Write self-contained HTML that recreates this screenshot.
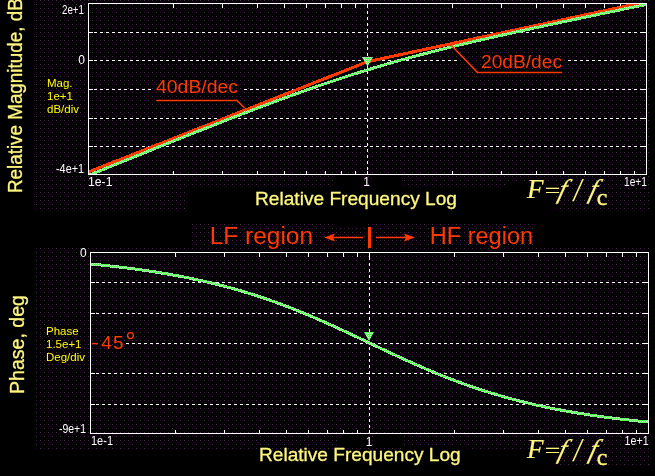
<!DOCTYPE html>
<html><head><meta charset="utf-8"><title>Bode plot</title>
<style>html,body{margin:0;padding:0;background:#000;width:655px;height:476px;overflow:hidden}body{position:relative}</style>
</head><body>
<svg width="655" height="476" viewBox="0 0 655 476" style="position:absolute;left:0;top:0">
<defs>
<pattern id="dots" width="8" height="8" patternUnits="userSpaceOnUse"><rect x="0" y="0" width="1" height="1" fill="#3e3e3e"/><rect x="4" y="0" width="1" height="1" fill="#3c0044"/><rect x="2" y="2" width="1" height="1" fill="#3c0044"/><rect x="0" y="4" width="1" height="1" fill="#3c0044"/><rect x="4" y="4" width="1" height="1" fill="#3e3e3e"/></pattern>
<pattern id="gchk" width="2" height="2" patternUnits="userSpaceOnUse"><rect width="2" height="2" fill="#b4ffb4"/><rect width="1" height="1" fill="#50ff50"/><rect x="1" y="1" width="1" height="1" fill="#50ff50"/></pattern>
<clipPath id="c1"><rect x="89" y="4" width="557" height="170"/></clipPath>
<clipPath id="c2"><rect x="91" y="253" width="557" height="180"/></clipPath>
</defs>
<rect width="655" height="476" fill="#000"/>
<rect x="34" y="0" width="616" height="211" fill="url(#dots)"/>
<rect x="188" y="187" width="367" height="24" fill="#000"/>
<rect x="333" y="175" width="30" height="12" fill="#000"/>
<rect x="372" y="175" width="30" height="12" fill="#000"/>
<rect x="506" y="182" width="49" height="5" fill="#000"/>
<rect x="192" y="224" width="344" height="24" fill="url(#dots)"/>
<rect x="335" y="224" width="31" height="4" fill="#000"/>
<rect x="35" y="248" width="616" height="201" fill="url(#dots)"/>
<rect x="555" y="449" width="96" height="17" fill="url(#dots)"/>
<rect x="337" y="434" width="30" height="13" fill="#000"/>
<rect x="373" y="434" width="30" height="13" fill="#000"/>
<rect x="403" y="445" width="64" height="4" fill="#000"/>
<path d="M89 32.5H91M94 32.5H97M100 32.5H103M106 32.5H109M112 32.5H115M118 32.5H121M124 32.5H127M130 32.5H133M136 32.5H139M142 32.5H145M148 32.5H151M154 32.5H157M160 32.5H163M166 32.5H169M172 32.5H175M178 32.5H181M184 32.5H187M190 32.5H193M196 32.5H199M202 32.5H205M208 32.5H211M214 32.5H217M220 32.5H223M226 32.5H229M232 32.5H235M238 32.5H241M244 32.5H247M250 32.5H253M256 32.5H259M262 32.5H265M268 32.5H271M274 32.5H277M280 32.5H283M286 32.5H289M292 32.5H295M298 32.5H301M304 32.5H307M310 32.5H313M316 32.5H319M322 32.5H325M328 32.5H331M334 32.5H337M340 32.5H343M346 32.5H349M352 32.5H355M358 32.5H361M364 32.5H367M370 32.5H373M376 32.5H379M382 32.5H385M388 32.5H391M394 32.5H397M400 32.5H403M406 32.5H409M412 32.5H415M418 32.5H421M424 32.5H427M430 32.5H433M436 32.5H439M442 32.5H445M448 32.5H451M454 32.5H457M460 32.5H463M466 32.5H469M472 32.5H475M478 32.5H481M484 32.5H487M490 32.5H493M496 32.5H499M502 32.5H505M508 32.5H511M514 32.5H517M520 32.5H523M526 32.5H529M532 32.5H535M538 32.5H541M544 32.5H547M550 32.5H553M556 32.5H559M562 32.5H565M568 32.5H571M574 32.5H577M580 32.5H583M586 32.5H589M592 32.5H595M598 32.5H601M604 32.5H607M610 32.5H613M616 32.5H619M622 32.5H625M628 32.5H631M634 32.5H637M640 32.5H643" stroke="#ffffff" stroke-width="1" fill="none" shape-rendering="crispEdges"/>
<rect x="89" y="32" width="4" height="1" fill="#ffffff"/>
<rect x="642" y="32" width="4" height="1" fill="#ffffff"/>
<path d="M89 60.5H91M94 60.5H97M100 60.5H103M106 60.5H109M112 60.5H115M118 60.5H121M124 60.5H127M130 60.5H133M136 60.5H139M142 60.5H145M148 60.5H151M154 60.5H157M160 60.5H163M166 60.5H169M172 60.5H175M178 60.5H181M184 60.5H187M190 60.5H193M196 60.5H199M202 60.5H205M208 60.5H211M214 60.5H217M220 60.5H223M226 60.5H229M232 60.5H235M238 60.5H241M244 60.5H247M250 60.5H253M256 60.5H259M262 60.5H265M268 60.5H271M274 60.5H277M280 60.5H283M286 60.5H289M292 60.5H295M298 60.5H301M304 60.5H307M310 60.5H313M316 60.5H319M322 60.5H325M328 60.5H331M334 60.5H337M340 60.5H343M346 60.5H349M352 60.5H355M358 60.5H361M364 60.5H367M370 60.5H373M376 60.5H379M382 60.5H385M388 60.5H391M394 60.5H397M400 60.5H403M406 60.5H409M412 60.5H415M418 60.5H421M424 60.5H427M430 60.5H433M436 60.5H439M442 60.5H445M448 60.5H451M454 60.5H457M460 60.5H463M466 60.5H469M472 60.5H475M478 60.5H481M484 60.5H487M490 60.5H493M496 60.5H499M502 60.5H505M508 60.5H511M514 60.5H517M520 60.5H523M526 60.5H529M532 60.5H535M538 60.5H541M544 60.5H547M550 60.5H553M556 60.5H559M562 60.5H565M568 60.5H571M574 60.5H577M580 60.5H583M586 60.5H589M592 60.5H595M598 60.5H601M604 60.5H607M610 60.5H613M616 60.5H619M622 60.5H625M628 60.5H631M634 60.5H637M640 60.5H643" stroke="#ffffff" stroke-width="1" fill="none" shape-rendering="crispEdges"/>
<rect x="89" y="60" width="4" height="1" fill="#ffffff"/>
<rect x="642" y="60" width="4" height="1" fill="#ffffff"/>
<path d="M89 89.5H91M94 89.5H97M100 89.5H103M106 89.5H109M112 89.5H115M118 89.5H121M124 89.5H127M130 89.5H133M136 89.5H139M142 89.5H145M148 89.5H151M154 89.5H157M160 89.5H163M166 89.5H169M172 89.5H175M178 89.5H181M184 89.5H187M190 89.5H193M196 89.5H199M202 89.5H205M208 89.5H211M214 89.5H217M220 89.5H223M226 89.5H229M232 89.5H235M238 89.5H241M244 89.5H247M250 89.5H253M256 89.5H259M262 89.5H265M268 89.5H271M274 89.5H277M280 89.5H283M286 89.5H289M292 89.5H295M298 89.5H301M304 89.5H307M310 89.5H313M316 89.5H319M322 89.5H325M328 89.5H331M334 89.5H337M340 89.5H343M346 89.5H349M352 89.5H355M358 89.5H361M364 89.5H367M370 89.5H373M376 89.5H379M382 89.5H385M388 89.5H391M394 89.5H397M400 89.5H403M406 89.5H409M412 89.5H415M418 89.5H421M424 89.5H427M430 89.5H433M436 89.5H439M442 89.5H445M448 89.5H451M454 89.5H457M460 89.5H463M466 89.5H469M472 89.5H475M478 89.5H481M484 89.5H487M490 89.5H493M496 89.5H499M502 89.5H505M508 89.5H511M514 89.5H517M520 89.5H523M526 89.5H529M532 89.5H535M538 89.5H541M544 89.5H547M550 89.5H553M556 89.5H559M562 89.5H565M568 89.5H571M574 89.5H577M580 89.5H583M586 89.5H589M592 89.5H595M598 89.5H601M604 89.5H607M610 89.5H613M616 89.5H619M622 89.5H625M628 89.5H631M634 89.5H637M640 89.5H643" stroke="#ffffff" stroke-width="1" fill="none" shape-rendering="crispEdges"/>
<rect x="89" y="89" width="4" height="1" fill="#ffffff"/>
<rect x="642" y="89" width="4" height="1" fill="#ffffff"/>
<path d="M89 118.5H91M94 118.5H97M100 118.5H103M106 118.5H109M112 118.5H115M118 118.5H121M124 118.5H127M130 118.5H133M136 118.5H139M142 118.5H145M148 118.5H151M154 118.5H157M160 118.5H163M166 118.5H169M172 118.5H175M178 118.5H181M184 118.5H187M190 118.5H193M196 118.5H199M202 118.5H205M208 118.5H211M214 118.5H217M220 118.5H223M226 118.5H229M232 118.5H235M238 118.5H241M244 118.5H247M250 118.5H253M256 118.5H259M262 118.5H265M268 118.5H271M274 118.5H277M280 118.5H283M286 118.5H289M292 118.5H295M298 118.5H301M304 118.5H307M310 118.5H313M316 118.5H319M322 118.5H325M328 118.5H331M334 118.5H337M340 118.5H343M346 118.5H349M352 118.5H355M358 118.5H361M364 118.5H367M370 118.5H373M376 118.5H379M382 118.5H385M388 118.5H391M394 118.5H397M400 118.5H403M406 118.5H409M412 118.5H415M418 118.5H421M424 118.5H427M430 118.5H433M436 118.5H439M442 118.5H445M448 118.5H451M454 118.5H457M460 118.5H463M466 118.5H469M472 118.5H475M478 118.5H481M484 118.5H487M490 118.5H493M496 118.5H499M502 118.5H505M508 118.5H511M514 118.5H517M520 118.5H523M526 118.5H529M532 118.5H535M538 118.5H541M544 118.5H547M550 118.5H553M556 118.5H559M562 118.5H565M568 118.5H571M574 118.5H577M580 118.5H583M586 118.5H589M592 118.5H595M598 118.5H601M604 118.5H607M610 118.5H613M616 118.5H619M622 118.5H625M628 118.5H631M634 118.5H637M640 118.5H643" stroke="#ffffff" stroke-width="1" fill="none" shape-rendering="crispEdges"/>
<rect x="89" y="118" width="4" height="1" fill="#ffffff"/>
<rect x="642" y="118" width="4" height="1" fill="#ffffff"/>
<path d="M89 146.5H91M94 146.5H97M100 146.5H103M106 146.5H109M112 146.5H115M118 146.5H121M124 146.5H127M130 146.5H133M136 146.5H139M142 146.5H145M148 146.5H151M154 146.5H157M160 146.5H163M166 146.5H169M172 146.5H175M178 146.5H181M184 146.5H187M190 146.5H193M196 146.5H199M202 146.5H205M208 146.5H211M214 146.5H217M220 146.5H223M226 146.5H229M232 146.5H235M238 146.5H241M244 146.5H247M250 146.5H253M256 146.5H259M262 146.5H265M268 146.5H271M274 146.5H277M280 146.5H283M286 146.5H289M292 146.5H295M298 146.5H301M304 146.5H307M310 146.5H313M316 146.5H319M322 146.5H325M328 146.5H331M334 146.5H337M340 146.5H343M346 146.5H349M352 146.5H355M358 146.5H361M364 146.5H367M370 146.5H373M376 146.5H379M382 146.5H385M388 146.5H391M394 146.5H397M400 146.5H403M406 146.5H409M412 146.5H415M418 146.5H421M424 146.5H427M430 146.5H433M436 146.5H439M442 146.5H445M448 146.5H451M454 146.5H457M460 146.5H463M466 146.5H469M472 146.5H475M478 146.5H481M484 146.5H487M490 146.5H493M496 146.5H499M502 146.5H505M508 146.5H511M514 146.5H517M520 146.5H523M526 146.5H529M532 146.5H535M538 146.5H541M544 146.5H547M550 146.5H553M556 146.5H559M562 146.5H565M568 146.5H571M574 146.5H577M580 146.5H583M586 146.5H589M592 146.5H595M598 146.5H601M604 146.5H607M610 146.5H613M616 146.5H619M622 146.5H625M628 146.5H631M634 146.5H637M640 146.5H643" stroke="#ffffff" stroke-width="1" fill="none" shape-rendering="crispEdges"/>
<rect x="89" y="146" width="4" height="1" fill="#ffffff"/>
<rect x="642" y="146" width="4" height="1" fill="#ffffff"/>
<path d="M367.5 5V8M367.5 11V14M367.5 17V20M367.5 23V26M367.5 29V32M367.5 35V38M367.5 41V44M367.5 47V50M367.5 53V56M367.5 59V62M367.5 65V68M367.5 71V74M367.5 77V80M367.5 83V86M367.5 89V92M367.5 95V98M367.5 101V104M367.5 107V110M367.5 113V116M367.5 119V122M367.5 125V128M367.5 131V134M367.5 137V140M367.5 143V146M367.5 149V152M367.5 155V158M367.5 161V164M367.5 167V170M367.5 173V174" stroke="#ffffff" stroke-width="1" fill="none" shape-rendering="crispEdges"/>
<rect x="367" y="4" width="1" height="4" fill="#ffffff"/>
<rect x="367" y="171" width="1" height="3" fill="#ffffff"/>
<rect x="173" y="4" width="1" height="4" fill="#ffffff"/>
<rect x="173" y="171" width="1" height="3" fill="#ffffff"/>
<rect x="222" y="4" width="1" height="4" fill="#ffffff"/>
<rect x="222" y="171" width="1" height="3" fill="#ffffff"/>
<rect x="257" y="4" width="1" height="4" fill="#ffffff"/>
<rect x="257" y="171" width="1" height="3" fill="#ffffff"/>
<rect x="284" y="4" width="1" height="4" fill="#ffffff"/>
<rect x="284" y="171" width="1" height="3" fill="#ffffff"/>
<rect x="306" y="4" width="1" height="4" fill="#ffffff"/>
<rect x="306" y="171" width="1" height="3" fill="#ffffff"/>
<rect x="325" y="4" width="1" height="4" fill="#ffffff"/>
<rect x="325" y="171" width="1" height="3" fill="#ffffff"/>
<rect x="341" y="4" width="1" height="4" fill="#ffffff"/>
<rect x="341" y="171" width="1" height="3" fill="#ffffff"/>
<rect x="355" y="4" width="1" height="4" fill="#ffffff"/>
<rect x="355" y="171" width="1" height="3" fill="#ffffff"/>
<rect x="452" y="4" width="1" height="4" fill="#ffffff"/>
<rect x="452" y="171" width="1" height="3" fill="#ffffff"/>
<rect x="501" y="4" width="1" height="4" fill="#ffffff"/>
<rect x="501" y="171" width="1" height="3" fill="#ffffff"/>
<rect x="536" y="4" width="1" height="4" fill="#ffffff"/>
<rect x="536" y="171" width="1" height="3" fill="#ffffff"/>
<rect x="563" y="4" width="1" height="4" fill="#ffffff"/>
<rect x="563" y="171" width="1" height="3" fill="#ffffff"/>
<rect x="585" y="4" width="1" height="4" fill="#ffffff"/>
<rect x="585" y="171" width="1" height="3" fill="#ffffff"/>
<rect x="604" y="4" width="1" height="4" fill="#ffffff"/>
<rect x="604" y="171" width="1" height="3" fill="#ffffff"/>
<rect x="620" y="4" width="1" height="4" fill="#ffffff"/>
<rect x="620" y="171" width="1" height="3" fill="#ffffff"/>
<rect x="634" y="4" width="1" height="4" fill="#ffffff"/>
<rect x="634" y="171" width="1" height="3" fill="#ffffff"/>
<rect x="88" y="3" width="559" height="1" fill="#ffffff"/>
<rect x="88" y="174" width="559" height="1" fill="#ffffff"/>
<rect x="88" y="3" width="1" height="172" fill="#ffffff"/>
<rect x="646" y="3" width="1" height="172" fill="#ffffff"/>
<rect x="152" y="78" width="91" height="21" fill="#000"/>
<rect x="152" y="78" width="91" height="21" fill="url(#dots)"/>
<rect x="458" y="50" width="110" height="21" fill="#000"/>
<rect x="458" y="50" width="110" height="21" fill="url(#dots)"/>
<g clip-path="url(#c1)">
<path d="M88 172.2 L367.5 61.7 L646 1.8" stroke="#ff3a00" stroke-width="3" fill="none" stroke-linejoin="round" shape-rendering="crispEdges"/>
<path d="M88.50 175.42 L90.36 174.67 L92.22 173.91 L94.08 173.15 L95.94 172.40 L97.80 171.64 L99.66 170.89 L101.52 170.13 L103.38 169.38 L105.24 168.62 L107.10 167.87 L108.96 167.11 L110.82 166.36 L112.68 165.60 L114.54 164.85 L116.40 164.09 L118.26 163.34 L120.12 162.59 L121.98 161.83 L123.84 161.08 L125.70 160.33 L127.56 159.57 L129.42 158.82 L131.28 158.07 L133.14 157.32 L135.00 156.56 L136.86 155.81 L138.72 155.06 L140.58 154.31 L142.44 153.56 L144.30 152.81 L146.16 152.06 L148.02 151.31 L149.88 150.56 L151.74 149.81 L153.60 149.06 L155.46 148.31 L157.32 147.56 L159.18 146.81 L161.04 146.06 L162.90 145.32 L164.76 144.57 L166.62 143.82 L168.48 143.07 L170.34 142.33 L172.20 141.58 L174.06 140.84 L175.92 140.09 L177.78 139.35 L179.64 138.60 L181.50 137.86 L183.36 137.12 L185.22 136.38 L187.08 135.63 L188.94 134.89 L190.80 134.15 L192.66 133.41 L194.52 132.67 L196.38 131.93 L198.24 131.20 L200.10 130.46 L201.96 129.72 L203.82 128.98 L205.68 128.25 L207.54 127.51 L209.40 126.78 L211.26 126.05 L213.12 125.31 L214.98 124.58 L216.84 123.85 L218.70 123.12 L220.56 122.39 L222.42 121.66 L224.28 120.93 L226.14 120.21 L228.00 119.48 L229.86 118.75 L231.72 118.03 L233.58 117.31 L235.44 116.59 L237.30 115.86 L239.16 115.15 L241.02 114.43 L242.88 113.71 L244.74 112.99 L246.60 112.28 L248.46 111.56 L250.32 110.85 L252.18 110.14 L254.04 109.43 L255.90 108.72 L257.76 108.01 L259.62 107.31 L261.48 106.60 L263.34 105.90 L265.20 105.20 L267.06 104.50 L268.92 103.80 L270.78 103.10 L272.64 102.41 L274.50 101.71 L276.36 101.02 L278.22 100.33 L280.08 99.64 L281.94 98.96 L283.80 98.27 L285.66 97.59 L287.52 96.91 L289.38 96.23 L291.24 95.55 L293.10 94.88 L294.96 94.21 L296.82 93.54 L298.68 92.87 L300.54 92.20 L302.40 91.54 L304.26 90.87 L306.12 90.21 L307.98 89.56 L309.84 88.90 L311.70 88.25 L313.56 87.60 L315.42 86.95 L317.28 86.30 L319.14 85.66 L321.00 85.02 L322.86 84.38 L324.72 83.75 L326.58 83.11 L328.44 82.48 L330.30 81.85 L332.16 81.23 L334.02 80.61 L335.88 79.99 L337.74 79.37 L339.60 78.75 L341.46 78.14 L343.32 77.53 L345.18 76.93 L347.04 76.32 L348.90 75.72 L350.76 75.13 L352.62 74.53 L354.48 73.94 L356.34 73.35 L358.20 72.77 L360.06 72.18 L361.92 71.60 L363.78 71.03 L365.64 70.45 L367.50 69.88 L369.36 69.31 L371.22 68.75 L373.08 68.18 L374.94 67.62 L376.80 67.07 L378.66 66.51 L380.52 65.96 L382.38 65.41 L384.24 64.87 L386.10 64.32 L387.96 63.78 L389.82 63.25 L391.68 62.71 L393.54 62.18 L395.40 61.65 L397.26 61.13 L399.12 60.61 L400.98 60.09 L402.84 59.57 L404.70 59.05 L406.56 58.54 L408.42 58.03 L410.28 57.53 L412.14 57.02 L414.00 56.52 L415.86 56.02 L417.72 55.52 L419.58 55.03 L421.44 54.54 L423.30 54.05 L425.16 53.56 L427.02 53.08 L428.88 52.59 L430.74 52.11 L432.60 51.64 L434.46 51.16 L436.32 50.69 L438.18 50.22 L440.04 49.75 L441.90 49.28 L443.76 48.81 L445.62 48.35 L447.48 47.89 L449.34 47.43 L451.20 46.97 L453.06 46.52 L454.92 46.06 L456.78 45.61 L458.64 45.16 L460.50 44.71 L462.36 44.27 L464.22 43.82 L466.08 43.38 L467.94 42.94 L469.80 42.50 L471.66 42.06 L473.52 41.62 L475.38 41.19 L477.24 40.75 L479.10 40.32 L480.96 39.89 L482.82 39.46 L484.68 39.03 L486.54 38.60 L488.40 38.18 L490.26 37.75 L492.12 37.33 L493.98 36.91 L495.84 36.49 L497.70 36.06 L499.56 35.65 L501.42 35.23 L503.28 34.81 L505.14 34.39 L507.00 33.98 L508.86 33.57 L510.72 33.15 L512.58 32.74 L514.44 32.33 L516.30 31.92 L518.16 31.51 L520.02 31.10 L521.88 30.69 L523.74 30.29 L525.60 29.88 L527.46 29.47 L529.32 29.07 L531.18 28.66 L533.04 28.26 L534.90 27.86 L536.76 27.46 L538.62 27.05 L540.48 26.65 L542.34 26.25 L544.20 25.85 L546.06 25.45 L547.92 25.05 L549.78 24.66 L551.64 24.26 L553.50 23.86 L555.36 23.46 L557.22 23.07 L559.08 22.67 L560.94 22.28 L562.80 21.88 L564.66 21.49 L566.52 21.09 L568.38 20.70 L570.24 20.31 L572.10 19.92 L573.96 19.52 L575.82 19.13 L577.68 18.74 L579.54 18.35 L581.40 17.96 L583.26 17.57 L585.12 17.18 L586.98 16.79 L588.84 16.40 L590.70 16.01 L592.56 15.62 L594.42 15.23 L596.28 14.84 L598.14 14.45 L600.00 14.06 L601.86 13.68 L603.72 13.29 L605.58 12.90 L607.44 12.51 L609.30 12.13 L611.16 11.74 L613.02 11.35 L614.88 10.97 L616.74 10.58 L618.60 10.19 L620.46 9.81 L622.32 9.42 L624.18 9.04 L626.04 8.65 L627.90 8.27 L629.76 7.88 L631.62 7.50 L633.48 7.11 L635.34 6.73 L637.20 6.34 L639.06 5.96 L640.92 5.57 L642.78 5.19 L644.64 4.81 L646.50 4.42" stroke="url(#gchk)" stroke-width="3" fill="none" shape-rendering="crispEdges"/>
</g>
<path d="M362 57 L373 57 L367.5 66.5 Z" fill="url(#gchk)"/>
<path d="M156.5 100.5 H237 L244.5 108" stroke="#ff3a00" stroke-width="1.6" fill="none"/>
<path d="M450 44 L477.5 72.5 H562" stroke="#ff3a00" stroke-width="1.6" fill="none"/>
<text x="156" y="92.5" font-family="'Liberation Sans', Arial, sans-serif" font-size="18" fill="#ff3a00" text-anchor="start" textLength="82" lengthAdjust="spacingAndGlyphs">40dB/dec</text>
<text x="481" y="67.5" font-family="'Liberation Sans', Arial, sans-serif" font-size="18" fill="#ff3a00" text-anchor="start" textLength="81" lengthAdjust="spacingAndGlyphs">20dB/dec</text>
<text x="84" y="13.5" font-family="'Liberation Sans', Arial, sans-serif" font-size="12" fill="#ffffff" text-anchor="end" textLength="22" lengthAdjust="spacingAndGlyphs">2e+1</text>
<text x="85" y="64" font-family="'Liberation Sans', Arial, sans-serif" font-size="12" fill="#ffffff" text-anchor="end" >0</text>
<text x="84" y="173" font-family="'Liberation Sans', Arial, sans-serif" font-size="12" fill="#ffffff" text-anchor="end" textLength="28" lengthAdjust="spacingAndGlyphs">-4e+1</text>
<text x="88" y="186" font-family="'Liberation Sans', Arial, sans-serif" font-size="12" fill="#ffffff" text-anchor="start" textLength="24.5" lengthAdjust="spacingAndGlyphs">1e-1</text>
<text x="366.5" y="186" font-family="'Liberation Sans', Arial, sans-serif" font-size="12" fill="#ffffff" text-anchor="middle" >1</text>
<text x="647" y="186" font-family="'Liberation Sans', Arial, sans-serif" font-size="12" fill="#ffffff" text-anchor="end" textLength="23" lengthAdjust="spacingAndGlyphs">1e+1</text>
<text x="47" y="87" font-family="'Liberation Sans', Arial, sans-serif" font-size="11.5" fill="#ffff00" text-anchor="start" >Mag.</text>
<text x="47" y="99.5" font-family="'Liberation Sans', Arial, sans-serif" font-size="11.5" fill="#ffff00" text-anchor="start" >1e+1</text>
<text x="47" y="112.5" font-family="'Liberation Sans', Arial, sans-serif" font-size="11.5" fill="#ffff00" text-anchor="start" >dB/div</text>
<path d="M91 282.5H93M96 282.5H99M102 282.5H105M108 282.5H111M114 282.5H117M120 282.5H123M126 282.5H129M132 282.5H135M138 282.5H141M144 282.5H147M150 282.5H153M156 282.5H159M162 282.5H165M168 282.5H171M174 282.5H177M180 282.5H183M186 282.5H189M192 282.5H195M198 282.5H201M204 282.5H207M210 282.5H213M216 282.5H219M222 282.5H225M228 282.5H231M234 282.5H237M240 282.5H243M246 282.5H249M252 282.5H255M258 282.5H261M264 282.5H267M270 282.5H273M276 282.5H279M282 282.5H285M288 282.5H291M294 282.5H297M300 282.5H303M306 282.5H309M312 282.5H315M318 282.5H321M324 282.5H327M330 282.5H333M336 282.5H339M342 282.5H345M348 282.5H351M354 282.5H357M360 282.5H363M366 282.5H369M372 282.5H375M378 282.5H381M384 282.5H387M390 282.5H393M396 282.5H399M402 282.5H405M408 282.5H411M414 282.5H417M420 282.5H423M426 282.5H429M432 282.5H435M438 282.5H441M444 282.5H447M450 282.5H453M456 282.5H459M462 282.5H465M468 282.5H471M474 282.5H477M480 282.5H483M486 282.5H489M492 282.5H495M498 282.5H501M504 282.5H507M510 282.5H513M516 282.5H519M522 282.5H525M528 282.5H531M534 282.5H537M540 282.5H543M546 282.5H549M552 282.5H555M558 282.5H561M564 282.5H567M570 282.5H573M576 282.5H579M582 282.5H585M588 282.5H591M594 282.5H597M600 282.5H603M606 282.5H609M612 282.5H615M618 282.5H621M624 282.5H627M630 282.5H633M636 282.5H639M642 282.5H645" stroke="#ffffff" stroke-width="1" fill="none" shape-rendering="crispEdges"/>
<rect x="91" y="282" width="4" height="1" fill="#ffffff"/>
<rect x="644" y="282" width="4" height="1" fill="#ffffff"/>
<path d="M91 313.5H93M96 313.5H99M102 313.5H105M108 313.5H111M114 313.5H117M120 313.5H123M126 313.5H129M132 313.5H135M138 313.5H141M144 313.5H147M150 313.5H153M156 313.5H159M162 313.5H165M168 313.5H171M174 313.5H177M180 313.5H183M186 313.5H189M192 313.5H195M198 313.5H201M204 313.5H207M210 313.5H213M216 313.5H219M222 313.5H225M228 313.5H231M234 313.5H237M240 313.5H243M246 313.5H249M252 313.5H255M258 313.5H261M264 313.5H267M270 313.5H273M276 313.5H279M282 313.5H285M288 313.5H291M294 313.5H297M300 313.5H303M306 313.5H309M312 313.5H315M318 313.5H321M324 313.5H327M330 313.5H333M336 313.5H339M342 313.5H345M348 313.5H351M354 313.5H357M360 313.5H363M366 313.5H369M372 313.5H375M378 313.5H381M384 313.5H387M390 313.5H393M396 313.5H399M402 313.5H405M408 313.5H411M414 313.5H417M420 313.5H423M426 313.5H429M432 313.5H435M438 313.5H441M444 313.5H447M450 313.5H453M456 313.5H459M462 313.5H465M468 313.5H471M474 313.5H477M480 313.5H483M486 313.5H489M492 313.5H495M498 313.5H501M504 313.5H507M510 313.5H513M516 313.5H519M522 313.5H525M528 313.5H531M534 313.5H537M540 313.5H543M546 313.5H549M552 313.5H555M558 313.5H561M564 313.5H567M570 313.5H573M576 313.5H579M582 313.5H585M588 313.5H591M594 313.5H597M600 313.5H603M606 313.5H609M612 313.5H615M618 313.5H621M624 313.5H627M630 313.5H633M636 313.5H639M642 313.5H645" stroke="#ffffff" stroke-width="1" fill="none" shape-rendering="crispEdges"/>
<rect x="91" y="313" width="4" height="1" fill="#ffffff"/>
<rect x="644" y="313" width="4" height="1" fill="#ffffff"/>
<path d="M91 343.5H93M96 343.5H99M102 343.5H105M108 343.5H111M114 343.5H117M120 343.5H123M126 343.5H129M132 343.5H135M138 343.5H141M144 343.5H147M150 343.5H153M156 343.5H159M162 343.5H165M168 343.5H171M174 343.5H177M180 343.5H183M186 343.5H189M192 343.5H195M198 343.5H201M204 343.5H207M210 343.5H213M216 343.5H219M222 343.5H225M228 343.5H231M234 343.5H237M240 343.5H243M246 343.5H249M252 343.5H255M258 343.5H261M264 343.5H267M270 343.5H273M276 343.5H279M282 343.5H285M288 343.5H291M294 343.5H297M300 343.5H303M306 343.5H309M312 343.5H315M318 343.5H321M324 343.5H327M330 343.5H333M336 343.5H339M342 343.5H345M348 343.5H351M354 343.5H357M360 343.5H363M366 343.5H369M372 343.5H375M378 343.5H381M384 343.5H387M390 343.5H393M396 343.5H399M402 343.5H405M408 343.5H411M414 343.5H417M420 343.5H423M426 343.5H429M432 343.5H435M438 343.5H441M444 343.5H447M450 343.5H453M456 343.5H459M462 343.5H465M468 343.5H471M474 343.5H477M480 343.5H483M486 343.5H489M492 343.5H495M498 343.5H501M504 343.5H507M510 343.5H513M516 343.5H519M522 343.5H525M528 343.5H531M534 343.5H537M540 343.5H543M546 343.5H549M552 343.5H555M558 343.5H561M564 343.5H567M570 343.5H573M576 343.5H579M582 343.5H585M588 343.5H591M594 343.5H597M600 343.5H603M606 343.5H609M612 343.5H615M618 343.5H621M624 343.5H627M630 343.5H633M636 343.5H639M642 343.5H645" stroke="#ffffff" stroke-width="1" fill="none" shape-rendering="crispEdges"/>
<rect x="91" y="343" width="4" height="1" fill="#ffffff"/>
<rect x="644" y="343" width="4" height="1" fill="#ffffff"/>
<path d="M91 373.5H93M96 373.5H99M102 373.5H105M108 373.5H111M114 373.5H117M120 373.5H123M126 373.5H129M132 373.5H135M138 373.5H141M144 373.5H147M150 373.5H153M156 373.5H159M162 373.5H165M168 373.5H171M174 373.5H177M180 373.5H183M186 373.5H189M192 373.5H195M198 373.5H201M204 373.5H207M210 373.5H213M216 373.5H219M222 373.5H225M228 373.5H231M234 373.5H237M240 373.5H243M246 373.5H249M252 373.5H255M258 373.5H261M264 373.5H267M270 373.5H273M276 373.5H279M282 373.5H285M288 373.5H291M294 373.5H297M300 373.5H303M306 373.5H309M312 373.5H315M318 373.5H321M324 373.5H327M330 373.5H333M336 373.5H339M342 373.5H345M348 373.5H351M354 373.5H357M360 373.5H363M366 373.5H369M372 373.5H375M378 373.5H381M384 373.5H387M390 373.5H393M396 373.5H399M402 373.5H405M408 373.5H411M414 373.5H417M420 373.5H423M426 373.5H429M432 373.5H435M438 373.5H441M444 373.5H447M450 373.5H453M456 373.5H459M462 373.5H465M468 373.5H471M474 373.5H477M480 373.5H483M486 373.5H489M492 373.5H495M498 373.5H501M504 373.5H507M510 373.5H513M516 373.5H519M522 373.5H525M528 373.5H531M534 373.5H537M540 373.5H543M546 373.5H549M552 373.5H555M558 373.5H561M564 373.5H567M570 373.5H573M576 373.5H579M582 373.5H585M588 373.5H591M594 373.5H597M600 373.5H603M606 373.5H609M612 373.5H615M618 373.5H621M624 373.5H627M630 373.5H633M636 373.5H639M642 373.5H645" stroke="#ffffff" stroke-width="1" fill="none" shape-rendering="crispEdges"/>
<rect x="91" y="373" width="4" height="1" fill="#ffffff"/>
<rect x="644" y="373" width="4" height="1" fill="#ffffff"/>
<path d="M91 404.5H93M96 404.5H99M102 404.5H105M108 404.5H111M114 404.5H117M120 404.5H123M126 404.5H129M132 404.5H135M138 404.5H141M144 404.5H147M150 404.5H153M156 404.5H159M162 404.5H165M168 404.5H171M174 404.5H177M180 404.5H183M186 404.5H189M192 404.5H195M198 404.5H201M204 404.5H207M210 404.5H213M216 404.5H219M222 404.5H225M228 404.5H231M234 404.5H237M240 404.5H243M246 404.5H249M252 404.5H255M258 404.5H261M264 404.5H267M270 404.5H273M276 404.5H279M282 404.5H285M288 404.5H291M294 404.5H297M300 404.5H303M306 404.5H309M312 404.5H315M318 404.5H321M324 404.5H327M330 404.5H333M336 404.5H339M342 404.5H345M348 404.5H351M354 404.5H357M360 404.5H363M366 404.5H369M372 404.5H375M378 404.5H381M384 404.5H387M390 404.5H393M396 404.5H399M402 404.5H405M408 404.5H411M414 404.5H417M420 404.5H423M426 404.5H429M432 404.5H435M438 404.5H441M444 404.5H447M450 404.5H453M456 404.5H459M462 404.5H465M468 404.5H471M474 404.5H477M480 404.5H483M486 404.5H489M492 404.5H495M498 404.5H501M504 404.5H507M510 404.5H513M516 404.5H519M522 404.5H525M528 404.5H531M534 404.5H537M540 404.5H543M546 404.5H549M552 404.5H555M558 404.5H561M564 404.5H567M570 404.5H573M576 404.5H579M582 404.5H585M588 404.5H591M594 404.5H597M600 404.5H603M606 404.5H609M612 404.5H615M618 404.5H621M624 404.5H627M630 404.5H633M636 404.5H639M642 404.5H645" stroke="#ffffff" stroke-width="1" fill="none" shape-rendering="crispEdges"/>
<rect x="91" y="404" width="4" height="1" fill="#ffffff"/>
<rect x="644" y="404" width="4" height="1" fill="#ffffff"/>
<path d="M369.5 253V254M369.5 257V260M369.5 263V266M369.5 269V272M369.5 275V278M369.5 281V284M369.5 287V290M369.5 293V296M369.5 299V302M369.5 305V308M369.5 311V314M369.5 317V320M369.5 323V326M369.5 329V332M369.5 335V338M369.5 341V344M369.5 347V350M369.5 353V356M369.5 359V362M369.5 365V368M369.5 371V374M369.5 377V380M369.5 383V386M369.5 389V392M369.5 395V398M369.5 401V404M369.5 407V410M369.5 413V416M369.5 419V422M369.5 425V428M369.5 431V433" stroke="#ffffff" stroke-width="1" fill="none" shape-rendering="crispEdges"/>
<rect x="369" y="253" width="1" height="4" fill="#ffffff"/>
<rect x="369" y="430" width="1" height="3" fill="#ffffff"/>
<rect x="175" y="253" width="1" height="4" fill="#ffffff"/>
<rect x="175" y="430" width="1" height="3" fill="#ffffff"/>
<rect x="224" y="253" width="1" height="4" fill="#ffffff"/>
<rect x="224" y="430" width="1" height="3" fill="#ffffff"/>
<rect x="259" y="253" width="1" height="4" fill="#ffffff"/>
<rect x="259" y="430" width="1" height="3" fill="#ffffff"/>
<rect x="286" y="253" width="1" height="4" fill="#ffffff"/>
<rect x="286" y="430" width="1" height="3" fill="#ffffff"/>
<rect x="308" y="253" width="1" height="4" fill="#ffffff"/>
<rect x="308" y="430" width="1" height="3" fill="#ffffff"/>
<rect x="327" y="253" width="1" height="4" fill="#ffffff"/>
<rect x="327" y="430" width="1" height="3" fill="#ffffff"/>
<rect x="343" y="253" width="1" height="4" fill="#ffffff"/>
<rect x="343" y="430" width="1" height="3" fill="#ffffff"/>
<rect x="357" y="253" width="1" height="4" fill="#ffffff"/>
<rect x="357" y="430" width="1" height="3" fill="#ffffff"/>
<rect x="454" y="253" width="1" height="4" fill="#ffffff"/>
<rect x="454" y="430" width="1" height="3" fill="#ffffff"/>
<rect x="503" y="253" width="1" height="4" fill="#ffffff"/>
<rect x="503" y="430" width="1" height="3" fill="#ffffff"/>
<rect x="538" y="253" width="1" height="4" fill="#ffffff"/>
<rect x="538" y="430" width="1" height="3" fill="#ffffff"/>
<rect x="565" y="253" width="1" height="4" fill="#ffffff"/>
<rect x="565" y="430" width="1" height="3" fill="#ffffff"/>
<rect x="587" y="253" width="1" height="4" fill="#ffffff"/>
<rect x="587" y="430" width="1" height="3" fill="#ffffff"/>
<rect x="606" y="253" width="1" height="4" fill="#ffffff"/>
<rect x="606" y="430" width="1" height="3" fill="#ffffff"/>
<rect x="622" y="253" width="1" height="4" fill="#ffffff"/>
<rect x="622" y="430" width="1" height="3" fill="#ffffff"/>
<rect x="636" y="253" width="1" height="4" fill="#ffffff"/>
<rect x="636" y="430" width="1" height="3" fill="#ffffff"/>
<rect x="90" y="252" width="559" height="1" fill="#ffffff"/>
<rect x="90" y="433" width="559" height="1" fill="#ffffff"/>
<rect x="90" y="252" width="1" height="182" fill="#ffffff"/>
<rect x="648" y="252" width="1" height="182" fill="#ffffff"/>
<rect x="91" y="331" width="34" height="20" fill="#000"/>
<rect x="91" y="331" width="34" height="20" fill="url(#dots)"/>
<g clip-path="url(#c2)"><path d="M90.50 263.98 L92.36 264.16 L94.22 264.34 L96.08 264.52 L97.94 264.71 L99.80 264.89 L101.66 265.08 L103.52 265.28 L105.38 265.47 L107.24 265.67 L109.10 265.87 L110.96 266.08 L112.82 266.29 L114.68 266.50 L116.54 266.71 L118.40 266.93 L120.26 267.15 L122.12 267.38 L123.98 267.60 L125.84 267.83 L127.70 268.07 L129.56 268.31 L131.42 268.55 L133.28 268.79 L135.14 269.04 L137.00 269.29 L138.86 269.55 L140.72 269.81 L142.58 270.07 L144.44 270.34 L146.30 270.61 L148.16 270.89 L150.02 271.17 L151.88 271.45 L153.74 271.74 L155.60 272.03 L157.46 272.33 L159.32 272.63 L161.18 272.93 L163.04 273.24 L164.90 273.55 L166.76 273.87 L168.62 274.20 L170.48 274.52 L172.34 274.86 L174.20 275.19 L176.06 275.53 L177.92 275.88 L179.78 276.23 L181.64 276.59 L183.50 276.95 L185.36 277.32 L187.22 277.69 L189.08 278.07 L190.94 278.45 L192.80 278.84 L194.66 279.23 L196.52 279.63 L198.38 280.03 L200.24 280.44 L202.10 280.86 L203.96 281.28 L205.82 281.70 L207.68 282.14 L209.54 282.57 L211.40 283.02 L213.26 283.47 L215.12 283.92 L216.98 284.39 L218.84 284.85 L220.70 285.33 L222.56 285.81 L224.42 286.29 L226.28 286.79 L228.14 287.29 L230.00 287.79 L231.86 288.30 L233.72 288.82 L235.58 289.35 L237.44 289.88 L239.30 290.41 L241.16 290.96 L243.02 291.51 L244.88 292.07 L246.74 292.63 L248.60 293.20 L250.46 293.78 L252.32 294.36 L254.18 294.95 L256.04 295.55 L257.90 296.16 L259.76 296.77 L261.62 297.39 L263.48 298.01 L265.34 298.64 L267.20 299.28 L269.06 299.93 L270.92 300.58 L272.78 301.24 L274.64 301.90 L276.50 302.57 L278.36 303.25 L280.22 303.94 L282.08 304.63 L283.94 305.33 L285.80 306.03 L287.66 306.75 L289.52 307.46 L291.38 308.19 L293.24 308.92 L295.10 309.66 L296.96 310.40 L298.82 311.15 L300.68 311.91 L302.54 312.67 L304.40 313.44 L306.26 314.21 L308.12 314.99 L309.98 315.77 L311.84 316.56 L313.70 317.36 L315.56 318.16 L317.42 318.97 L319.28 319.78 L321.14 320.59 L323.00 321.41 L324.86 322.24 L326.72 323.07 L328.58 323.90 L330.44 324.74 L332.30 325.58 L334.16 326.43 L336.02 327.28 L337.88 328.13 L339.74 328.99 L341.60 329.85 L343.46 330.71 L345.32 331.58 L347.18 332.45 L349.04 333.32 L350.90 334.19 L352.76 335.07 L354.62 335.94 L356.48 336.82 L358.34 337.70 L360.20 338.58 L362.06 339.46 L363.92 340.35 L365.78 341.23 L367.64 342.12 L369.50 343.00 L371.36 343.88 L373.22 344.77 L375.08 345.65 L376.94 346.54 L378.80 347.42 L380.66 348.30 L382.52 349.18 L384.38 350.06 L386.24 350.93 L388.10 351.81 L389.96 352.68 L391.82 353.55 L393.68 354.42 L395.54 355.29 L397.40 356.15 L399.26 357.01 L401.12 357.87 L402.98 358.72 L404.84 359.57 L406.70 360.42 L408.56 361.26 L410.42 362.10 L412.28 362.93 L414.14 363.76 L416.00 364.59 L417.86 365.41 L419.72 366.22 L421.58 367.03 L423.44 367.84 L425.30 368.64 L427.16 369.44 L429.02 370.23 L430.88 371.01 L432.74 371.79 L434.60 372.56 L436.46 373.33 L438.32 374.09 L440.18 374.85 L442.04 375.60 L443.90 376.34 L445.76 377.08 L447.62 377.81 L449.48 378.54 L451.34 379.25 L453.20 379.97 L455.06 380.67 L456.92 381.37 L458.78 382.06 L460.64 382.75 L462.50 383.43 L464.36 384.10 L466.22 384.76 L468.08 385.42 L469.94 386.07 L471.80 386.72 L473.66 387.36 L475.52 387.99 L477.38 388.61 L479.24 389.23 L481.10 389.84 L482.96 390.45 L484.82 391.05 L486.68 391.64 L488.54 392.22 L490.40 392.80 L492.26 393.37 L494.12 393.93 L495.98 394.49 L497.84 395.04 L499.70 395.59 L501.56 396.12 L503.42 396.65 L505.28 397.18 L507.14 397.70 L509.00 398.21 L510.86 398.71 L512.72 399.21 L514.58 399.71 L516.44 400.19 L518.30 400.67 L520.16 401.15 L522.02 401.61 L523.88 402.08 L525.74 402.53 L527.60 402.98 L529.46 403.43 L531.32 403.86 L533.18 404.30 L535.04 404.72 L536.90 405.14 L538.76 405.56 L540.62 405.97 L542.48 406.37 L544.34 406.77 L546.20 407.16 L548.06 407.55 L549.92 407.93 L551.78 408.31 L553.64 408.68 L555.50 409.05 L557.36 409.41 L559.22 409.77 L561.08 410.12 L562.94 410.47 L564.80 410.81 L566.66 411.14 L568.52 411.48 L570.38 411.80 L572.24 412.13 L574.10 412.45 L575.96 412.76 L577.82 413.07 L579.68 413.37 L581.54 413.67 L583.40 413.97 L585.26 414.26 L587.12 414.55 L588.98 414.83 L590.84 415.11 L592.70 415.39 L594.56 415.66 L596.42 415.93 L598.28 416.19 L600.14 416.45 L602.00 416.71 L603.86 416.96 L605.72 417.21 L607.58 417.45 L609.44 417.69 L611.30 417.93 L613.16 418.17 L615.02 418.40 L616.88 418.62 L618.74 418.85 L620.60 419.07 L622.46 419.29 L624.32 419.50 L626.18 419.71 L628.04 419.92 L629.90 420.13 L631.76 420.33 L633.62 420.53 L635.48 420.72 L637.34 420.92 L639.20 421.11 L641.06 421.29 L642.92 421.48 L644.78 421.66 L646.64 421.84 L648.50 422.02" stroke="url(#gchk)" stroke-width="3" fill="none" shape-rendering="crispEdges"/></g>
<path d="M364 332 L374 332 L369 341 Z" fill="url(#gchk)"/>
<g font-family="'Liberation Sans', Arial, sans-serif" fill="#ff3a00"><text transform="translate(91,349) scale(1.3,1)" font-size="18.5">-</text><text x="101.3" y="349" font-size="19" letter-spacing="1.1">45</text><text x="125.3" y="349.6" font-size="26">°</text></g>
<text x="86.8" y="257" font-family="'Liberation Sans', Arial, sans-serif" font-size="12" fill="#ffffff" text-anchor="end" >0</text>
<text x="86" y="433" font-family="'Liberation Sans', Arial, sans-serif" font-size="12" fill="#ffffff" text-anchor="end" textLength="27" lengthAdjust="spacingAndGlyphs">-9e+1</text>
<text x="91" y="445" font-family="'Liberation Sans', Arial, sans-serif" font-size="12" fill="#ffffff" text-anchor="start" textLength="22" lengthAdjust="spacingAndGlyphs">1e-1</text>
<text x="369.2" y="445.5" font-family="'Liberation Sans', Arial, sans-serif" font-size="12" fill="#ffffff" text-anchor="middle" >1</text>
<text x="648.6" y="444.5" font-family="'Liberation Sans', Arial, sans-serif" font-size="12" fill="#ffffff" text-anchor="end" textLength="24" lengthAdjust="spacingAndGlyphs">1e+1</text>
<text x="46" y="334.5" font-family="'Liberation Sans', Arial, sans-serif" font-size="11.5" fill="#ffff00" text-anchor="start" >Phase</text>
<text x="46" y="347.5" font-family="'Liberation Sans', Arial, sans-serif" font-size="11.5" fill="#ffff00" text-anchor="start" >1.5e+1</text>
<text x="46" y="360.5" font-family="'Liberation Sans', Arial, sans-serif" font-size="11.5" fill="#ffff00" text-anchor="start" >Deg/div</text>
<text x="0" y="0" font-family="'Liberation Sans', Arial, sans-serif" font-size="19.5" fill="#fff680" text-anchor="start" stroke="#fff680" stroke-width="0.3" transform="translate(22,193.1) rotate(-90)" textLength="194.8" lengthAdjust="spacingAndGlyphs">Relative Magnitude, dB</text>
<text x="0" y="0" font-family="'Liberation Sans', Arial, sans-serif" font-size="19.5" fill="#fff680" text-anchor="start" stroke="#fff680" stroke-width="0.3" transform="translate(24,394) rotate(-90)" textLength="99" lengthAdjust="spacingAndGlyphs">Phase, deg</text>
<text x="255" y="204.5" font-family="'Liberation Sans', Arial, sans-serif" font-size="19" fill="#fff680" text-anchor="start" stroke="#fff680" stroke-width="0.3" textLength="202" lengthAdjust="spacingAndGlyphs">Relative Frequency Log</text>
<text x="259" y="461" font-family="'Liberation Sans', Arial, sans-serif" font-size="19" fill="#fff680" text-anchor="start" stroke="#fff680" stroke-width="0.3" textLength="201.7" lengthAdjust="spacingAndGlyphs">Relative Frequency Log</text>
<g transform="translate(0,0)" fill="#fff680" stroke="#fff680" stroke-width="0.2" font-family="'Liberation Serif', 'Times New Roman', serif"><text x="527" y="198" font-size="27" font-style="italic">F</text><text transform="translate(544.8,196.9) scale(1.02,0.72)" font-size="27" stroke-width="0.35">=</text><text transform="translate(557,198) skewX(-15)" font-size="27" font-style="italic">f</text><text transform="translate(572.3,201.2) skewX(-6)" font-size="33.5" stroke-width="0">/</text><text transform="translate(587.8,198) skewX(-15)" font-size="27" font-style="italic">f</text><text x="596.8" y="205" font-size="24" stroke-width="0.4">c</text></g>
<g transform="translate(0,260)" fill="#fff680" stroke="#fff680" stroke-width="0.2" font-family="'Liberation Serif', 'Times New Roman', serif"><text x="527" y="198" font-size="27" font-style="italic">F</text><text transform="translate(544.8,196.9) scale(1.02,0.72)" font-size="27" stroke-width="0.35">=</text><text transform="translate(557,198) skewX(-15)" font-size="27" font-style="italic">f</text><text transform="translate(572.3,201.2) skewX(-6)" font-size="33.5" stroke-width="0">/</text><text transform="translate(587.8,198) skewX(-15)" font-size="27" font-style="italic">f</text><text x="596.8" y="205" font-size="24" stroke-width="0.4">c</text></g>
<text x="209.7" y="244" font-family="'Liberation Sans', Arial, sans-serif" font-size="23" fill="#ff3a00" text-anchor="start" textLength="103.4" lengthAdjust="spacingAndGlyphs">LF region</text>
<text x="429.8" y="243.5" font-family="'Liberation Sans', Arial, sans-serif" font-size="23" fill="#ff3a00" text-anchor="start" textLength="103.3" lengthAdjust="spacingAndGlyphs">HF region</text>
<path d="M333 237.5 H363" stroke="#ff3a00" stroke-width="1.5"/>
<path d="M324 237.5 L335 233.5 L333 237.5 L335 241.5 Z" fill="#ff3a00"/>
<path d="M376 237.5 H406" stroke="#ff3a00" stroke-width="1.5"/>
<path d="M415 237.5 L404 233.5 L406 237.5 L404 241.5 Z" fill="#ff3a00"/>
<rect x="368" y="227" width="3" height="21" fill="#ff3a00"/>
</svg>
</body></html>
